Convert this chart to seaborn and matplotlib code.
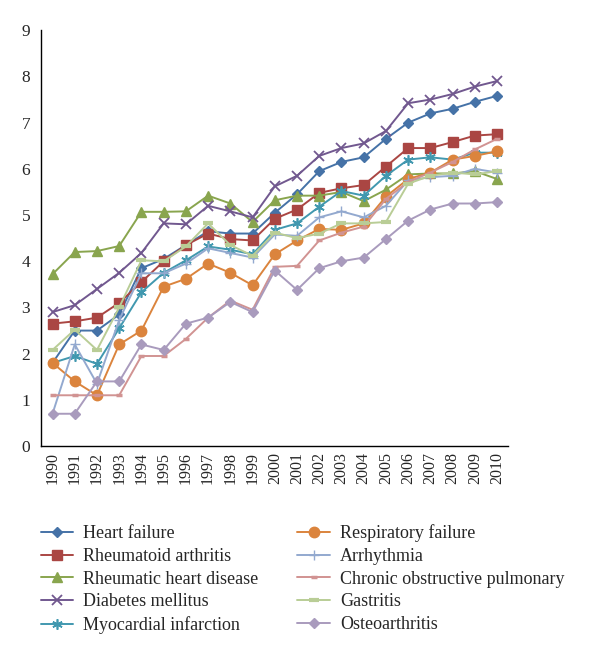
import matplotlib
matplotlib.use("Agg")
import matplotlib.pyplot as plt
import seaborn as sns
import pandas as pd
import numpy as np
from matplotlib.ticker import FixedLocator

years = list(range(1990, 2011))

heart_failure = [1.8, 2.5, 2.5, 2.85, 3.85, 4.05, 4.35, 4.65, 4.6, 4.6, 5.05, 5.45, 5.95, 6.15, 6.25, 6.65, 7.0, 7.2, 7.3, 7.45, 7.58]
rheumatoid_arthritis = [2.65, 2.7, 2.78, 3.1, 3.55, 4.0, 4.35, 4.6, 4.48, 4.45, 4.92, 5.12, 5.48, 5.58, 5.65, 6.05, 6.45, 6.45, 6.58, 6.72, 6.75]
rheumatic_heart = [3.72, 4.2, 4.22, 4.33, 5.07, 5.07, 5.08, 5.42, 5.25, 4.85, 5.32, 5.42, 5.42, 5.5, 5.3, 5.55, 5.88, 5.9, 5.9, 5.95, 5.78]
diabetes = [2.9, 3.05, 3.4, 3.75, 4.18, 4.82, 4.8, 5.2, 5.08, 4.95, 5.62, 5.85, 6.28, 6.45, 6.55, 6.82, 7.42, 7.5, 7.62, 7.78, 7.9]
myocardial = [1.8, 1.95, 1.78, 2.55, 3.33, 3.75, 4.02, 4.32, 4.25, 4.15, 4.68, 4.82, 5.18, 5.52, 5.42, 5.85, 6.2, 6.25, 6.2, 6.35, 6.35]
respiratory = [1.8, 1.4, 1.1, 2.2, 2.5, 3.45, 3.62, 3.95, 3.75, 3.48, 4.15, 4.45, 4.7, 4.68, 4.82, 5.4, 5.78, 5.92, 6.2, 6.28, 6.38]
arrhythmia = [0.7, 2.2, 1.35, 2.73, 3.74, 3.74, 3.95, 4.28, 4.18, 4.08, 4.58, 4.55, 4.95, 5.08, 4.95, 5.2, 5.75, 5.82, 5.85, 6.0, 5.92]
copd = [1.1, 1.1, 1.1, 1.1, 1.95, 1.95, 2.32, 2.78, 3.15, 2.95, 3.88, 3.9, 4.45, 4.62, 4.75, 5.35, 5.72, 5.92, 6.15, 6.42, 6.65]
gastritis = [2.08, 2.52, 2.08, 3.0, 4.02, 4.0, 4.32, 4.82, 4.35, 4.12, 4.62, 4.5, 4.6, 4.82, 4.82, 4.85, 5.68, 5.85, 5.92, 5.88, 5.95]
osteoarthritis = [0.7, 0.7, 1.4, 1.4, 2.2, 2.08, 2.65, 2.78, 3.12, 2.9, 3.8, 3.38, 3.85, 4.0, 4.08, 4.48, 4.88, 5.12, 5.25, 5.25, 5.28]

series_names = ["Heart failure", "Rheumatoid arthritis", "Rheumatic heart disease",
                "Diabetes mellitus", "Myocardial infarction", "Respiratory failure",
                "Arrhythmia", "Chronic obstructive pulmonary", "Gastritis", "Osteoarthritis"]
series_values = [heart_failure, rheumatoid_arthritis, rheumatic_heart, diabetes, myocardial,
                 respiratory, arrhythmia, copd, gastritis, osteoarthritis]

colors = ["#4572A7", "#AA4643", "#89A54E", "#71588F", "#4198AF",
          "#DB843D", "#93A9CF", "#D19392", "#B9CD96", "#A99BBD"]
markers = ["D", "s", "^", "x", (6, 2, 0), "o", "+", "_", "_", "D"]
msizes = [5.5, 7, 7.5, 7.5, 7.5, 7.5, 7.5, 4, 6.5, 5.5]
mews = [1, 1, 1, 1.3, 1.2, 1, 1, 2.5, 3, 1]

df = pd.DataFrame({"year": years})
for n, v in zip(series_names, series_values):
    df[n] = v

sns.set_style("white")
plt.rcParams["font.family"] = ["Liberation Serif", "DejaVu Serif"]

fig = plt.figure(figsize=(6.0, 6.57), dpi=100)
ax = fig.add_axes([0.069, 0.321, 0.778, 0.633])

for n, c, m, ms, mw in zip(series_names, colors, markers, msizes, mews):
    sns.lineplot(data=df, x="year", y=n, ax=ax, color=c, marker=m, markersize=ms,
                 markeredgewidth=mw, markeredgecolor=c, linewidth=1.4, label=n, legend=False)

ax.set_xlim(1989.5, 2010.5)
ax.set_ylim(0, 9)
ax.set_yticks(range(0, 10))
ax.set_xticks(years)
ax.set_xticklabels([str(y) for y in years], rotation=90)
ax.xaxis.set_minor_locator(FixedLocator([y + 0.5 for y in range(1989, 2011)]))
ax.tick_params(axis="x", which="major", length=0, pad=4, labelsize=11.5)
ax.tick_params(axis="x", which="minor", length=5, width=1, direction="out", color="black")
ax.tick_params(axis="y", which="major", length=5, width=1, direction="out", color="black", labelsize=12.5, pad=3)
ax.set_xlabel("")
ax.set_ylabel("")
for s in ["top", "right"]:
    ax.spines[s].set_visible(False)
for s in ["left", "bottom"]:
    ax.spines[s].set_color("black")
    ax.spines[s].set_linewidth(1)

handles, labels = ax.get_legend_handles_labels()
fig.legend(handles, labels, ncol=2, loc="upper left", bbox_to_anchor=(0.056, 0.213),
           frameon=False, fontsize=13, handlelength=1.8, handletextpad=0.55,
           columnspacing=2.15, labelspacing=0.32, borderaxespad=0)

fig.savefig("out.png", dpi=100)
